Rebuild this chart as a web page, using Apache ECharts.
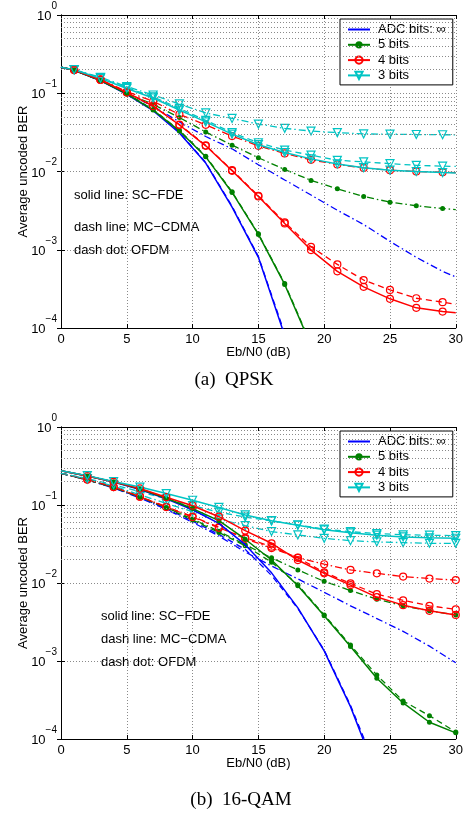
<!DOCTYPE html>
<html><head><meta charset="utf-8">
<script src="https://cdn.jsdelivr.net/npm/echarts@6/dist/echarts.min.js"></script>
<style>html,body{margin:0;padding:0;background:#fff}#c{width:466px;height:814px}</style>
</head><body><div id="c"></div>
<script>
// ---------- data ----------
const xTop = [0,1,3,5,7,9,11,13,15,17,19,21,23,25,27,29,30];   // QPSK Eb/N0 (dB)
const xBot = [0,2,4,6,8,10,12,14,16,18,20,22,24,26,28,30];       // 16-QAM Eb/N0 (dB)
const legendNames = ['ADC bits: \u221e', '5 bits', '4 bits', '3 bits'];
const schemeNotes = ['solid line: SC\u2212FDE', 'dash line: MC\u2212CDMA', 'dash dot: OFDM'];
const captions = ['(a)  QPSK', '(b)  16-QAM'];
const xName = 'Eb/N0 (dB)';
const yName = 'Average uncoded BER';

// QPSK
const q_inf_sc = [0.215,0.197,0.145,0.097,0.06,0.031,0.0128,0.0035,0.0008,0.00008];
const q_inf_mc = [0.215,0.197,0.146,0.098,0.061,0.0315,0.013,0.0036,0.00082,0.000085];
const q_inf_of = [0.215,0.197,0.145,0.1,0.068,0.043,0.028,0.0195,0.0122,0.0078,0.005,0.0032,0.0021,0.00128,0.0008,0.00053,0.00045];
const q_5_sc = [0.215,0.197,0.145,0.098,0.061,0.033,0.0154,0.0054,0.00157,0.00036,0.00006];
const q_5_mc = [0.215,0.197,0.146,0.099,0.062,0.0335,0.0157,0.0055,0.0016,0.00037,0.000062];
const q_5_of = [0.215,0.198,0.147,0.1,0.072,0.049,0.032,0.0217,0.015,0.0106,0.0077,0.006,0.0048,0.00406,0.00365,0.00337,0.00326];
const q_4_sc = [0.215,0.198,0.148,0.102,0.0685,0.0393,0.0213,0.0102,0.0048,0.00217,0.00099,0.00053,0.000336,0.000236,0.000181,0.000162,0.000157];
const q_4_mc = [0.215,0.198,0.149,0.103,0.069,0.0398,0.0216,0.0104,0.0049,0.00224,0.00109,0.00065,0.00041,0.000307,0.00024,0.000214,0.0002];
const q_4_of = [0.215,0.2,0.15,0.105,0.079,0.0536,0.0395,0.0284,0.0213,0.017,0.0141,0.0123,0.0111,0.0104,0.01,0.0098,0.0097];
const q_3_sc = [0.215,0.2,0.155,0.115,0.087,0.061,0.043,0.03,0.022,0.0175,0.0145,0.0125,0.0112,0.0104,0.01,0.0097,0.0096];
const q_3_mc = [0.215,0.2,0.157,0.118,0.09,0.064,0.045,0.0315,0.0233,0.0188,0.0162,0.0139,0.0133,0.0126,0.012,0.0117,0.0116];
const q_3_of = [0.215,0.2,0.16,0.122,0.095,0.073,0.056,0.0477,0.0404,0.0356,0.0329,0.0314,0.0302,0.03,0.0297,0.0295,0.0295];

// 16-QAM
const m_inf_sc = [0.275,0.235,0.197,0.158,0.12,0.087,0.058,0.031,0.0135,0.0048,0.00135,0.00026,0.000035];
const m_inf_mc = [0.255,0.21,0.167,0.125,0.09,0.062,0.042,0.027,0.0125,0.0047,0.00138,0.00027,0.00004];
const m_inf_of = [0.255,0.21,0.165,0.123,0.088,0.06,0.04,0.025,0.0165,0.0113,0.0076,0.0051,0.0035,0.0024,0.00155,0.00095];
const m_5_sc = [0.275,0.235,0.198,0.16,0.122,0.09,0.063,0.0364,0.0197,0.0092,0.0038,0.00153,0.0006,0.00029,0.000164,0.00012];
const m_5_mc = [0.255,0.21,0.168,0.126,0.092,0.064,0.0445,0.03,0.0185,0.0095,0.0039,0.0016,0.00066,0.000307,0.000199,0.000123];
const m_5_of = [0.255,0.21,0.168,0.127,0.093,0.066,0.046,0.031,0.021,0.0147,0.0105,0.008,0.0062,0.0051,0.0044,0.0039];
const m_4_sc = [0.275,0.235,0.198,0.163,0.126,0.098,0.0708,0.047,0.0323,0.0197,0.0133,0.0094,0.0066,0.0052,0.0044,0.0039];
const m_4_mc = [0.255,0.212,0.17,0.128,0.094,0.07,0.051,0.038,0.0292,0.021,0.0137,0.0099,0.0072,0.006,0.0051,0.0046];
const m_4_of = [0.255,0.212,0.17,0.128,0.095,0.071,0.052,0.037,0.028,0.0212,0.0174,0.0147,0.0133,0.0121,0.0114,0.0109];
const m_3_sc = [0.275,0.238,0.2,0.17,0.14,0.115,0.093,0.0745,0.063,0.055,0.048,0.044,0.041,0.039,0.038,0.0375];
const m_3_mc = [0.255,0.218,0.182,0.148,0.12,0.098,0.081,0.07,0.0625,0.0557,0.049,0.0455,0.043,0.0415,0.041,0.0405];
const m_3_of = [0.255,0.215,0.175,0.135,0.105,0.082,0.066,0.0545,0.0457,0.0413,0.0374,0.0349,0.0336,0.0329,0.0323,0.0323];

// ---------- styling ----------
const FONT = '"Liberation Sans", Arial, Helvetica, sans-serif';
const SERIF = '"Liberation Serif", "Times New Roman", serif';
const colors = { inf: '#0000FF', b5: '#008000', b4: '#FF0000', b3: '#00C4C4' };
const markers = {
  inf: { symbol: 'circle', size: 0, invisible: true },
  b5: { symbol: 'circle', size: 5, filled: true },
  b4: { symbol: 'circle', size: 7 },
  b3: { symbol: 'triangle', size: 8, rotate: 180 }
};
function lineType(s) { return s === 'solid' ? 'solid' : (s === 'dash' ? [6, 4] : [7, 3, 1.5, 3]); }

function makeSeries(name, bits, scheme, xs, ys, gi, markerAt) {
  const c = colors[bits], m = markers[bits];
  const itemStyle = m.invisible
    ? { color: 'rgba(0,0,0,0)', borderColor: 'rgba(0,0,0,0)', borderWidth: 0 }
    : { color: m.filled ? c : 'rgba(255,255,255,0)', borderColor: c, borderWidth: m.filled ? 0 : 1.2 };
  return {
    type: 'line', name: name, xAxisIndex: gi * 2, yAxisIndex: gi * 2,
    data: ys.map((v, i) => { const d = { value: [xs[i], v] }; if (m.invisible || !markerAt(xs[i])) d.symbol = 'none'; return d; }),
    symbol: m.symbol, symbolSize: m.size, symbolRotate: m.rotate || 0,
    showSymbol: true, showAllSymbol: true, clip: true,
    lineStyle: { color: c, width: scheme === 'solid' ? 1.5 : 1.3, type: lineType(scheme) },
    itemStyle: itemStyle,
    emphasis: { disabled: true }, animation: false, z: 3
  };
}

const bitsKeys = ['inf', 'b5', 'b4', 'b3'];
const topSets = [[q_inf_sc, q_inf_mc, q_inf_of], [q_5_sc, q_5_mc, q_5_of], [q_4_sc, q_4_mc, q_4_of], [q_3_sc, q_3_mc, q_3_of]];
const botSets = [[m_inf_sc, m_inf_mc, m_inf_of], [m_5_sc, m_5_mc, m_5_of], [m_4_sc, m_4_mc, m_4_of], [m_3_sc, m_3_mc, m_3_of]];
const schemes = ['solid', 'dash', 'dashdot'];
const schemeTags = ['', ' MC-CDMA', ' OFDM'];

const minorVals = [];
for (let d = -4; d <= -1; d++) for (let k = 2; k <= 9; k++) minorVals.push(k * Math.pow(10, d));

const series = [];
[0, 1].forEach(gi => {
  series.push({
    type: 'line', xAxisIndex: gi * 2, yAxisIndex: gi * 2, data: [], silent: true, z: 1, animation: false,
    markLine: {
      silent: true, symbol: ['none', 'none'], label: { show: false }, animation: false,
      lineStyle: { type: [1, 2], color: '#8a8a8a', width: 1 },
      emphasis: { disabled: true },
      data: minorVals.map(v => ({ yAxis: v }))
    }
  });
});
// legend-bearing solid series first, then the others; z keeps solid lines on top
[0, 1, 2].forEach(si => {
  bitsKeys.forEach((b, bi) => {
    const sTop = makeSeries(legendNames[bi] + schemeTags[si], b, schemes[si], xTop, topSets[bi][si], 0, x => x % 2 === 1);
    const sBot = makeSeries(legendNames[bi] + schemeTags[si], b, schemes[si], xBot, botSets[bi][si], 1, x => x > 0);
    sTop.z = sBot.z = 5 - si;
    series.push(sTop, sBot);
  });
});

const grids = [
  { left: 61, top: 15, width: 398, height: 313 },
  { left: 61, top: 427, width: 398, height: 312 }
];
const axisLine = { show: true, lineStyle: { color: '#000', width: 1 } };
const xAxes = [], yAxes = [];
[0, 1].forEach(gi => {
  xAxes.push({
    gridIndex: gi, type: 'value', min: 0, max: 30, interval: 5, position: 'bottom',
    name: xName, nameLocation: 'middle', nameGap: 18, nameMoveOverlap: false,
    nameTextStyle: { fontFamily: FONT, fontSize: 13, color: '#000' },
    axisLine: axisLine, axisTick: { inside: true, length: 4, lineStyle: { color: '#000' } },
    axisLabel: { fontFamily: FONT, fontSize: 13, color: '#000', margin: 5 },
    splitLine: { show: true, lineStyle: { type: [1, 2], color: '#8a8a8a', width: 1 } }
  });
  xAxes.push({
    gridIndex: gi, type: 'value', min: 0, max: 30, interval: 5, position: 'top',
    axisLine: axisLine, axisTick: { inside: true, length: 4, lineStyle: { color: '#000' } },
    axisLabel: { show: false }, splitLine: { show: false }
  });
  yAxes.push({
    gridIndex: gi, type: 'log', logBase: 10, min: 1e-4, max: 1, splitNumber: 4, position: 'left',
    name: yName, nameLocation: 'middle', nameGap: 31, nameRotate: 90, nameMoveOverlap: false,
    nameTextStyle: { fontFamily: FONT, fontSize: 13, color: '#000' },
    axisLine: axisLine, axisTick: { inside: true, length: 4, lineStyle: { color: '#000' } },
    axisLabel: {
      margin: 4, color: '#000', padding: [0, 0, 6, 0],
      formatter: v => { const e = Math.round(Math.log10(v)); return '{b|10}{s|' + (e === 0 ? '0' : '\u2212' + (-e)) + '}'; },
      rich: {
        b: { fontFamily: FONT, fontSize: 13, lineHeight: 22, verticalAlign: 'bottom', color: '#000' },
        s: { fontFamily: FONT, fontSize: 10, lineHeight: 11, verticalAlign: 'top', color: '#000' }
      }
    },
    splitLine: { show: true, lineStyle: { type: [1, 2], color: '#8a8a8a', width: 1 } }
  });
  yAxes.push({
    gridIndex: gi, type: 'log', logBase: 10, min: 1e-4, max: 1, splitNumber: 4, position: 'right',
    axisLine: axisLine, axisTick: { inside: true, length: 4, lineStyle: { color: '#000' } },
    axisLabel: { show: false }, splitLine: { show: false }
  });
});

function legendAt(top) {
  return {
    data: legendNames, orient: 'vertical', left: 340, top: top,
    backgroundColor: '#fff', borderColor: '#000', borderWidth: 1,
    padding: [4, 7, 3, 7], itemGap: 2.3, itemWidth: 22, itemHeight: 9,
    textStyle: { fontFamily: FONT, fontSize: 13, color: '#000', padding: [0, 0, 0, 3] },
    selectedMode: false
  };
}

const graphic = [];
function note(x, y, t) {
  graphic.push({ type: 'text', x: x, y: y, silent: true,
    style: { text: t, fontFamily: FONT, fontSize: 13, fill: '#000', textVerticalAlign: 'middle' } });
}
note(74, 195.7, schemeNotes[0]); note(74, 227.7, schemeNotes[1]); note(74, 250.7, schemeNotes[2]);
note(101, 616, schemeNotes[0]); note(101, 639, schemeNotes[1]); note(101, 662.3, schemeNotes[2]);
graphic.push({ type: 'text', x: 234, y: 380, silent: true,
  style: { text: captions[0], fontFamily: SERIF, fontSize: 19, fill: '#000', textAlign: 'center', textVerticalAlign: 'middle' } });
graphic.push({ type: 'text', x: 241, y: 800, silent: true,
  style: { text: captions[1], fontFamily: SERIF, fontSize: 19, fill: '#000', textAlign: 'center', textVerticalAlign: 'middle' } });

const chart = echarts.init(document.getElementById('c'), null, { renderer: 'canvas' });
chart.setOption({
  backgroundColor: '#fff', animation: false,
  grid: grids, xAxis: xAxes, yAxis: yAxes,
  legend: [legendAt(19), legendAt(431)],
  series: series, graphic: graphic
});
</script></body></html>
